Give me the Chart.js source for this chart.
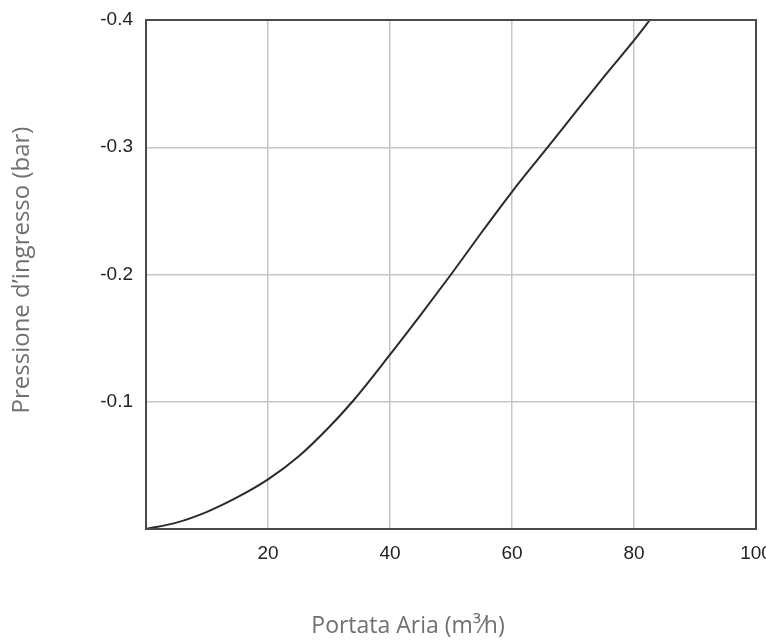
<!DOCTYPE html>
<html>
<head>
<meta charset="utf-8">
<script src="https://cdn.jsdelivr.net/npm/chart.js@4"></script>
<style>
  html, body { margin: 0; padding: 0; background: #fff; }
  #wrap { width: 766px; height: 640px; position: relative; }
</style>
</head>
<body>
<div id="wrap"><canvas id="curva"></canvas></div>
<script>
/* dati */
const portata   = [0, 5, 10, 15, 20, 25, 30, 34, 40, 45, 50, 55, 60, 65, 70, 75, 80, 82.6];
const pressione = [0, -0.005, -0.0135, -0.025, -0.039, -0.057, -0.080, -0.101, -0.137, -0.168, -0.200, -0.233, -0.265, -0.295, -0.325, -0.355, -0.384, -0.4];
const ticksX = [20, 40, 60, 80, 100];
const ticksY = [-0.4, -0.3, -0.2, -0.1];

const titoloX = 'Portata Aria (m³⁄h)';
const titoloY = 'Pressione d’ingresso (bar)';

// cornice attorno all'area + titoli degli assi
const cornice = {
    id: 'cornice',
    afterDatasetsDraw(chart) {
        const { ctx, chartArea: a } = chart;
        ctx.save();
        ctx.strokeStyle = '#4a4a4a';
        ctx.lineWidth = 2;
        ctx.strokeRect(a.left, a.top, a.right - a.left, a.bottom - a.top);

        ctx.fillStyle = '#707070';
        ctx.textAlign = 'center';
        ctx.textBaseline = 'middle';
        ctx.font = '23px "Open Sans"';
        ctx.fillText(titoloX, 408, 626);

        ctx.translate(22, 270);
        ctx.rotate(-Math.PI / 2);
        ctx.font = '24px "Open Sans"';
        ctx.fillText(titoloY, 0, 0);
        ctx.restore();
    }
};

const punti = portata.map((x, i) => ({ x, y: pressione[i] }));

new Chart(document.getElementById('curva'), {
    type: 'line',
    data: {
        datasets: [{
            data: punti,
            borderColor: '#2b2b2b',
            borderWidth: 2,
            pointRadius: 0,
            fill: false,
            cubicInterpolationMode: 'monotone'
        }]
    },
    options: {
        responsive: true,
        maintainAspectRatio: false,
        animation: false,
        layout: { padding: { top: 20, right: 10, left: 0, bottom: 0 } },
        plugins: { legend: { display: false }, tooltip: { enabled: false } },
        scales: {
            x: {
                type: 'linear',
                min: 0, max: 100,
                afterBuildTicks: s => { s.ticks = [0, ...ticksX].map(v => ({ value: v })); },
                afterFit: s => { s.height = 111; s.paddingRight = 0; s.paddingLeft = 0; },
                grid: { color: '#c6c6c6', lineWidth: 1.5, drawTicks: false },
                border: { display: false },
                ticks: {
                    padding: 13,
                    color: '#222',
                    font: { family: 'Liberation Sans', size: 19 },
                    callback: v => v === 0 ? '' : v
                }
            },
            y: {
                type: 'linear',
                min: -0.4, max: 0,
                reverse: true,
                afterBuildTicks: s => { s.ticks = [0, ...ticksY].map(v => ({ value: v })); },
                afterFit: s => { s.width = 146; s.paddingTop = 0; s.paddingBottom = 0; },
                grid: { color: '#c6c6c6', lineWidth: 1.5, drawTicks: false },
                border: { display: false },
                ticks: {
                    padding: 13,
                    color: '#222',
                    font: { family: 'Liberation Sans', size: 19 },
                    callback: v => v === 0 ? '' : v.toFixed(1)
                }
            }
        }
    },
    plugins: [cornice]
});
</script>
</body>
</html>
